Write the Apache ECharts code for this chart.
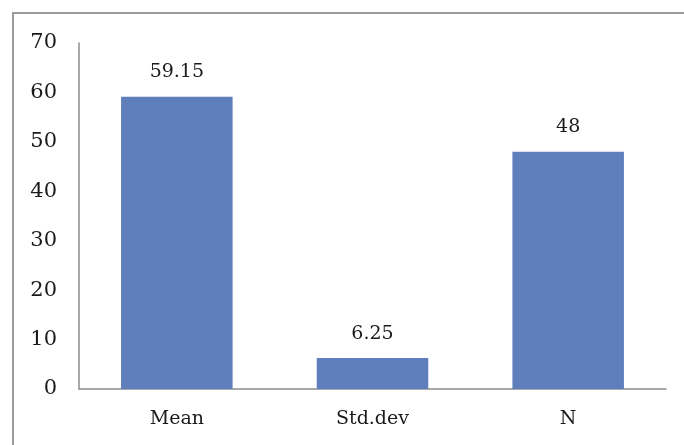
<!DOCTYPE html>
<html>
<head>
<meta charset="utf-8">
<script src="https://cdn.jsdelivr.net/npm/echarts@6/dist/echarts.min.js"></script>
<style>
    html, body { margin: 0; padding: 0; background: #ffffff; }
    #char1 { width: 684px; height: 445px; }
</style>
</head>
<body>
<div id="char1"></div>
<script>
var categories = ["Mean", "Std.dev", "N"];
var values = [59.15, 6.25, 48];
var valueLabels = ["59.15", "6.25", "48"];

function char1() {
    var myChart = echarts.init(document.getElementById("char1"));
    var font = "DejaVu Serif";

    var option = {
        animation: false,
        grid: {
            left: 79,
            right: 18,
            top: 43,
            bottom: 56,
            containLabel: false,
        },
        graphic: [
            {
                type: "rect",
                shape: { x: 13, y: 13, width: 720, height: 480 },
                style: { fill: "none", stroke: "#9a9a9a", lineWidth: 2 },
            },
        ],
        xAxis: {
            type: "category",
            data: categories,
            axisLine: { lineStyle: { color: "#8c8c8c", width: 1.5 } },
            axisTick: { show: false },
            axisLabel: {
                color: "#1a1a1a",
                fontFamily: font,
                fontSize: 19,
                margin: 21,
            },
        },
        yAxis: {
            type: "value",
            min: 0,
            max: 70,
            interval: 10,
            axisLine: { show: true, lineStyle: { color: "#8c8c8c", width: 1.5 } },
            axisTick: { show: false },
            splitLine: { show: false },
            axisLabel: {
                color: "#1a1a1a",
                fontFamily: font,
                fontSize: 21,
                margin: 22,
            },
        },
        series: [
            {
                type: "bar",
                data: values,
                barWidth: "57%",
                itemStyle: { color: "#5e7ebc" },
                label: {
                    show: true,
                    position: "top",
                    distance: 15,
                    color: "#1a1a1a",
                    fontFamily: font,
                    fontSize: 19,
                    formatter: function (p) {
                        return valueLabels[p.dataIndex];
                    },
                },
            },
        ],
    };

    myChart.setOption(option);
    window.addEventListener("resize", function () {
        myChart.resize();
    });
}

char1();
</script>
</body>
</html>
